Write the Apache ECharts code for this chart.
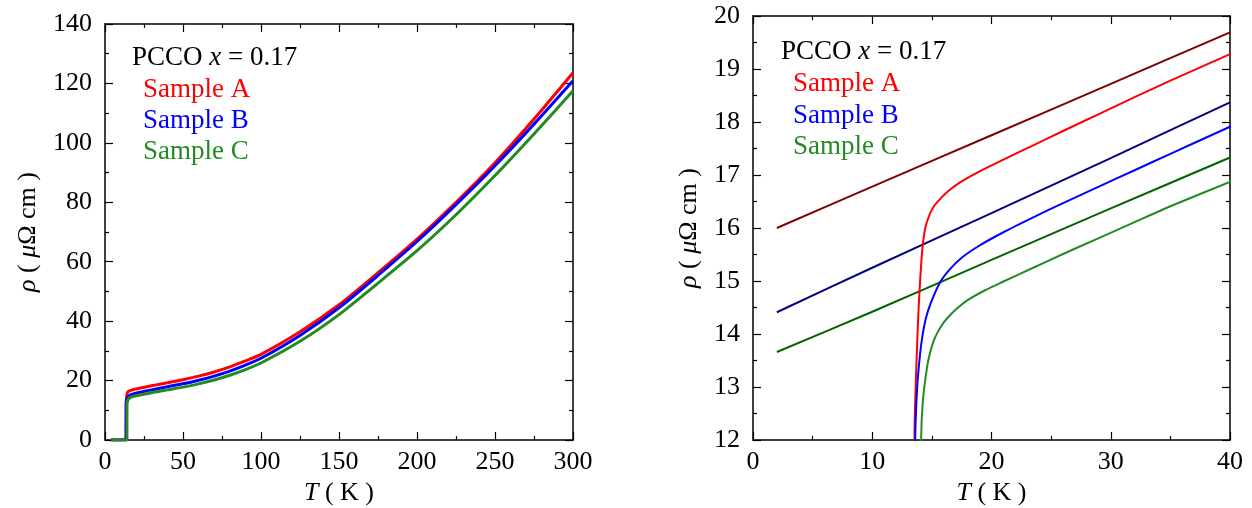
<!DOCTYPE html>
<html>
<head>
<meta charset="utf-8">
<script src="https://cdn.jsdelivr.net/npm/echarts@6/dist/echarts.min.js"></script>
<style>
html, body { margin: 0; padding: 0; background: #fff; }
#main { width: 1252px; height: 508px; }
</style>
</head>
<body>
<div id="main"></div>
<script>
// measured resistivity, sample A / B / C  (T in K, rho in micro-ohm cm)
var tA = [4, 8, 12, 13.48, 13.55, 13.7, 13.85, 14.0, 14.2, 14.45, 14.8, 15.2, 15.7, 16.5, 17.5, 19, 21, 23.5, 26, 29, 32, 35, 40, 50, 60, 70, 80, 90, 100, 125, 150, 175, 200, 225, 250, 275, 300];
var rhoA = [0, 0, 0, 0, 12.2, 13.4, 14.3, 14.95, 15.6, 16.0, 16.25, 16.42, 16.55, 16.72, 16.88, 17.07, 17.29, 17.56, 17.83, 18.15, 18.47, 18.78, 19.28, 20.3, 21.5, 22.9, 24.6, 26.6, 28.8, 36.4, 45.5, 56.3, 67.6, 80.0, 93.3, 108.0, 123.6];

var tB = [4, 8, 12, 13.55, 13.6, 13.7, 13.8, 14.0, 14.2, 14.5, 14.9, 15.7, 16.5, 17.5, 19, 21, 23.5, 26, 29, 32, 35, 40, 50, 60, 70, 80, 90, 100, 125, 150, 175, 200, 225, 250, 275, 300];
var rhoB = [0, 0, 0, 0, 12, 12.7, 13.1, 13.6, 13.95, 14.3, 14.58, 14.98, 15.22, 15.44, 15.67, 15.92, 16.2, 16.47, 16.78, 17.09, 17.4, 17.91, 18.9, 20.1, 21.5, 23.2, 25.2, 27.5, 35.2, 44.5, 55.4, 66.8, 79.2, 92.3, 106.3, 120.9];

var tC = [4, 8, 12, 14.05, 14.1, 14.25, 14.6, 14.85, 15.15, 15.5, 16.0, 16.5, 17.2, 18, 19.5, 21, 23.5, 26, 29, 32, 35, 40, 50, 60, 70, 80, 90, 100, 125, 150, 175, 200, 225, 250, 275, 300];
var rhoC = [0, 0, 0, 0, 12, 12.75, 13.38, 13.65, 13.87, 14.04, 14.22, 14.35, 14.5, 14.64, 14.83, 14.99, 15.25, 15.51, 15.81, 16.11, 16.41, 16.87, 17.8, 18.9, 20.2, 21.8, 23.7, 25.9, 33.2, 42.2, 52.8, 63.7, 75.8, 89.0, 103.0, 117.5];

// normal state lines (right panel)
var tFit = [2, 10, 20, 30, 40];
var fitA = [16.0, 16.78, 17.75, 18.72, 19.69];
var fitB = [14.41, 15.25, 16.28, 17.32, 18.37];
var fitC = [13.66, 14.42, 15.40, 16.37, 17.33];

var sampleNames = ['Sample A', 'Sample B', 'Sample C'];

function pairs(t, r) {
	var out = [];
	for (var i = 0; i < t.length; i++) out.push([t[i], r[i]]);
	return out;
}

var FONT = 'Liberation Serif';
var FS = 26;
var axisLine = { show: true, onZero: false, lineStyle: { color: '#000', width: 1.5 } };

function xAx(grid, pos, min, max, step, labels, gap) {
	return {
		type: 'value', gridIndex: grid, position: pos, min: min, max: max, interval: step,
		axisLine: axisLine,
		axisTick: { show: true, inside: true, length: 8, lineStyle: { color: '#000', width: 1.2 } },
		minorTick: { show: true, splitNumber: 2, length: 4, lineStyle: { color: '#000', width: 1.2 } },
		axisLabel: { show: labels, color: '#000', fontFamily: FONT, fontSize: FS, margin: 9 },
		splitLine: { show: false },
		name: labels ? '{i|T} ( K )' : '',
		nameLocation: 'middle', nameGap: gap,
		nameTextStyle: { color: '#000', fontFamily: FONT, fontSize: FS, rich: { i: { fontStyle: 'italic', fontFamily: FONT, fontSize: FS } } }
	};
}
function yAx(grid, pos, min, max, step, labels, gap) {
	return {
		type: 'value', gridIndex: grid, position: pos, min: min, max: max, interval: step,
		axisLine: axisLine,
		axisTick: { show: true, inside: true, length: 8, lineStyle: { color: '#000', width: 1.2 } },
		minorTick: { show: true, splitNumber: 2, length: 4, lineStyle: { color: '#000', width: 1.2 } },
		axisLabel: { show: labels, color: '#000', fontFamily: FONT, fontSize: FS, margin: 13 },
		splitLine: { show: false },
		name: labels ? '{i|ρ} ( {i|μ}Ω cm )' : '',
		nameLocation: 'middle', nameGap: gap, nameRotate: 90,
		nameTextStyle: { color: '#000', fontFamily: FONT, fontSize: FS, rich: { i: { fontStyle: 'italic', fontFamily: FONT, fontSize: FS } } }
	};
}

function line(name, data, color, width, xi, yi) {
	return {
		name: name, type: 'line', xAxisIndex: xi, yAxisIndex: yi,
		data: data, showSymbol: false, clip: true,
		smooth: 0.25,
		lineStyle: { color: color, width: width },
		itemStyle: { color: color }
	};
}

function legendText(x, y, txt, color) {
	return {
		type: 'text', x: x, y: y,
		style: {
			text: txt, fill: color, font: '27px "' + FONT + '"', verticalAlign: 'middle',
			rich: { i: { fontStyle: 'italic', fontFamily: FONT, fontSize: 27, fill: color } }
		}
	};
}

var cols = ['#ff0000', '#0000ff', '#228b22'];
var dark = ['#800000', '#000080', '#006400'];

var chart = echarts.init(document.getElementById('main'));
var option = {
	animation: false,
	backgroundColor: '#fff',
	grid: [
		{ left: 105, top: 24, width: 468, height: 416, outerBoundsMode: 'none' },
		{ left: 753, top: 16, width: 477, height: 424, outerBoundsMode: 'none' }
	],
	xAxis: [
		xAx(0, 'bottom', 0, 300, 50, true, 28),
		xAx(0, 'top', 0, 300, 50, false, 0),
		xAx(1, 'bottom', 0, 40, 10, true, 38),
		xAx(1, 'top', 0, 40, 10, false, 0)
	],
	yAxis: [
		yAx(0, 'left', 0, 140, 20, true, 64),
		yAx(0, 'right', 0, 140, 20, false, 0),
		yAx(1, 'left', 12, 20, 1, true, 51),
		yAx(1, 'right', 12, 20, 1, false, 0)
	],
	series: [
		line(sampleNames[0], pairs(tA, rhoA), cols[0], 3, 0, 0),
		line(sampleNames[1], pairs(tB, rhoB), cols[1], 3, 0, 0),
		line(sampleNames[2], pairs(tC, rhoC), cols[2], 3, 0, 0),
		line('fitA', pairs(tFit, fitA), dark[0], 2, 2, 2),
		line('fitB', pairs(tFit, fitB), dark[1], 2, 2, 2),
		line('fitC', pairs(tFit, fitC), dark[2], 2, 2, 2),
		line(sampleNames[0] + ' ', pairs(tA, rhoA), cols[0], 2, 2, 2),
		line(sampleNames[1] + ' ', pairs(tB, rhoB), cols[1], 2, 2, 2),
		line(sampleNames[2] + ' ', pairs(tC, rhoC), cols[2], 2, 2, 2)
	],
	graphic: [
		legendText(132, 58, 'PCCO {i|x} = 0.17', '#000'),
		legendText(143, 90, sampleNames[0], cols[0]),
		legendText(143, 121, sampleNames[1], cols[1]),
		legendText(143, 152, sampleNames[2], cols[2]),
		legendText(781, 52, 'PCCO {i|x} = 0.17', '#000'),
		legendText(793, 84, sampleNames[0], cols[0]),
		legendText(793, 116, sampleNames[1], cols[1]),
		legendText(793, 147, sampleNames[2], cols[2])
	]
};
chart.setOption(option);
</script>
</body>
</html>
